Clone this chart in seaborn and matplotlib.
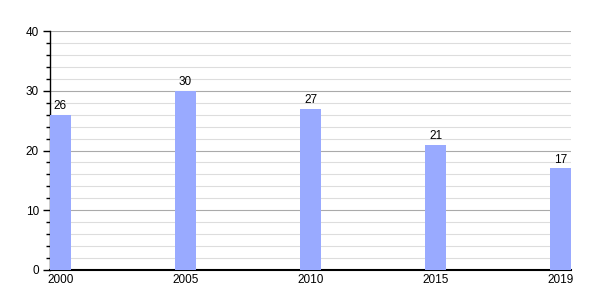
import matplotlib
matplotlib.use("Agg")
import matplotlib.pyplot as plt
import seaborn as sns
import pandas as pd
from matplotlib.ticker import MultipleLocator

years = ["2000", "2005", "2010", "2015", "2019"]
values = [26, 30, 27, 21, 17]

sns.set_theme(style="white")
plt.rcParams['font.family'] = ['Liberation Sans', 'DejaVu Sans']
plt.rcParams['text.color'] = 'black'
plt.rcParams['xtick.color'] = 'black'
plt.rcParams['ytick.color'] = 'black'

df = pd.DataFrame({"year": years, "value": values})

fig = plt.figure(figsize=(6, 3), dpi=100)
ax = fig.add_axes([50/600, 30/300, 521/600, 239/300])

sns.barplot(data=df, x="year", y="value", color="#99aaff", saturation=1,
            width=0.168, ax=ax, zorder=3, linewidth=0, edgecolor="none")

ax.set_xlim(-0.084, 4.084)
ax.set_ylim(0, 40)
ax.yaxis.set_major_locator(MultipleLocator(10))
ax.yaxis.set_minor_locator(MultipleLocator(2))
ax.grid(which="major", axis="y", color="#aaaaaa", linewidth=0.8, zorder=0)
ax.grid(which="minor", axis="y", color="#dddddd", linewidth=0.8, zorder=0)
ax.set_axisbelow(True)

for s in ["top", "right"]:
    ax.spines[s].set_visible(False)
ax.spines["left"].set_color("black")
ax.spines["left"].set_linewidth(1.0)
ax.spines["bottom"].set_color("black")
ax.spines["bottom"].set_linewidth(1.5)

ax.tick_params(axis="y", which="major", length=5, width=1, color="black",
               labelcolor="black", labelsize=8.5, left=True, pad=3)
ax.tick_params(axis="y", which="minor", length=3, width=1, color="black", left=True)
ax.tick_params(axis="x", length=0, labelsize=8.5, labelcolor="black", pad=3)
ax.set_xlabel("")
ax.set_ylabel("")

for c in ax.containers:
    ax.bar_label(c, labels=[str(v) for v in values], padding=2, fontsize=8.5,
                 color="black")

fig.savefig("out.png", dpi=100)
